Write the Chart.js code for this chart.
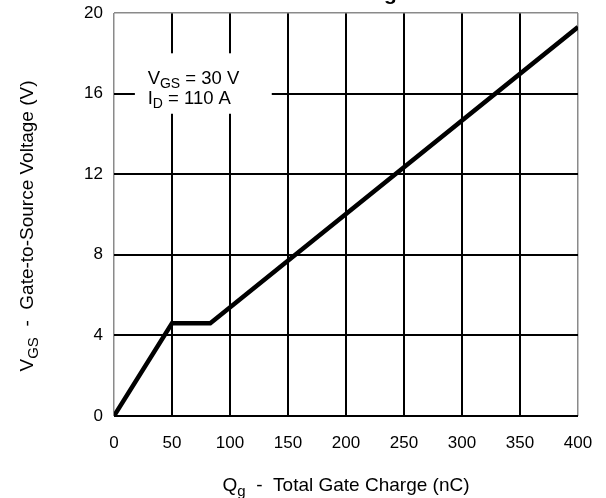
<!DOCTYPE html>
<html>
<head>
<meta charset="utf-8">
<script src="https://cdn.jsdelivr.net/npm/chart.js@4"></script>
<style>
  html, body { margin: 0; padding: 0; background: #fff; }
  #wrap { width: 606px; height: 498px; position: relative; }
</style>
</head>
<body>
<div id="wrap"><canvas id="c" width="606" height="498"></canvas></div>
<script>
// Data
const gateCharge = [0, 50, 83, 400];          // Qg (nC)
const gateVoltage = [0, 4.6, 4.6, 19.3];      // VGS (V)
const xTicks = [0, 50, 100, 150, 200, 250, 300, 350, 400];
const yTicks = [0, 4, 8, 12, 16, 20];
const chartTitle = 'Gate Charge';
const noteLines = [['V', 'GS', ' = 30 V'], ['I', 'D', ' = 110 A']];
const xTitle = ['Q', 'g', '  -  Total Gate Charge (nC)'];
const yTitle = ['V', 'GS', '  -  Gate-to-Source Voltage (V)'];

const FONT = '"Liberation Sans", Arial, Helvetica, sans-serif';

function drawSubText(ctx, parts, x, y, size, align) {
  // parts: [main, sub, rest]
  const subSize = Math.round(size * 0.78);
  ctx.font = size + 'px ' + FONT;
  const w0 = ctx.measureText(parts[0]).width;
  const w2 = ctx.measureText(parts[2]).width;
  ctx.font = subSize + 'px ' + FONT;
  const w1 = ctx.measureText(parts[1]).width;
  const total = w0 + w1 + w2;
  let sx = align === 'center' ? x - total / 2 : x;
  ctx.textAlign = 'left';
  ctx.textBaseline = 'alphabetic';
  ctx.font = size + 'px ' + FONT;
  ctx.fillText(parts[0], sx, y);
  ctx.font = subSize + 'px ' + FONT;
  ctx.fillText(parts[1], sx + w0, y + size * 0.25);
  ctx.font = size + 'px ' + FONT;
  ctx.fillText(parts[2], sx + w0 + w1, y);
}

const decor = {
  id: 'decor',
  beforeDatasetsDraw(chart) {
    const ctx = chart.ctx;
    const xs = chart.scales.x, ys = chart.scales.y;
    ctx.save();
    // white box behind the annotation
    const bx0 = xs.getPixelForValue(18), bx1 = xs.getPixelForValue(136);
    const by0 = ys.getPixelForValue(18.0), by1 = ys.getPixelForValue(15.0);
    ctx.fillStyle = '#fff';
    ctx.fillRect(bx0, by0, bx1 - bx0, by1 - by0);
    ctx.fillStyle = '#000';
    const tx = xs.getPixelForValue(29);
    drawSubText(ctx, noteLines[0], tx, ys.getPixelForValue(16.5), 18.5, 'left');
    drawSubText(ctx, noteLines[1], tx, ys.getPixelForValue(15.5), 18.5, 'left');
    ctx.restore();
  },
  afterDraw(chart) {
    const ctx = chart.ctx;
    const a = chart.chartArea;
    ctx.save();
    ctx.fillStyle = '#000';
    // title (clipped at top as in the reference)
    ctx.font = 'bold 21px ' + FONT;
    ctx.textAlign = 'center';
    ctx.textBaseline = 'alphabetic';
    ctx.fillText(chartTitle, (a.left + a.right) / 2, 0);
    // x axis title
    drawSubText(ctx, xTitle, (a.left + a.right) / 2, 491, 19, 'center');
    // y axis title
    ctx.translate(33, 226);
    ctx.rotate(-Math.PI / 2);
    drawSubText(ctx, yTitle, 0, 0, 19, 'center');
    ctx.restore();
  }
};

const gridColor = (edgeVals) => (c) => (edgeVals.includes(c.tick.value) ? '#8a8a8a' : '#000');
const gridWidth = (edgeVals) => (c) => (edgeVals.includes(c.tick.value) ? 1.5 : 2);

new Chart(document.getElementById('c'), {
  type: 'scatter',
  data: {
    datasets: [{
      data: gateCharge.map((q, i) => ({ x: q, y: gateVoltage[i] })),
      showLine: true,
      borderColor: '#000',
      borderWidth: 4.5,
      pointRadius: 0,
      tension: 0,
      fill: false
    }]
  },
  options: {
    responsive: false,
    animation: false,
    devicePixelRatio: 1,
    layout: { padding: { left: 0, top: 13, right: 28, bottom: 0 } },
    plugins: { legend: { display: false }, tooltip: { enabled: false }, title: { display: false } },
    scales: {
      x: {
        type: 'linear', min: 0, max: 400,
        afterBuildTicks: (s) => { s.ticks = xTicks.map(v => ({ value: v })); },
        afterFit: (s) => { s.height = 82; s.paddingLeft = 0; s.paddingRight = 0; },
        border: { display: false },
        grid: { color: gridColor([0, 400]), lineWidth: gridWidth([0, 400]), drawTicks: false },
        ticks: { color: '#000', font: { size: 17, family: FONT }, padding: 17, maxRotation: 0 }
      },
      y: {
        type: 'linear', min: 0, max: 20,
        afterBuildTicks: (s) => { s.ticks = yTicks.map(v => ({ value: v })); },
        afterFit: (s) => { s.width = 114; s.paddingTop = 0; s.paddingBottom = 0; },
        border: { display: false },
        grid: { color: gridColor([20]), lineWidth: gridWidth([20]), drawTicks: false },
        ticks: { color: '#000', font: { size: 17, family: FONT }, padding: 11 }
      }
    }
  },
  plugins: [decor]
});
</script>
</body>
</html>
